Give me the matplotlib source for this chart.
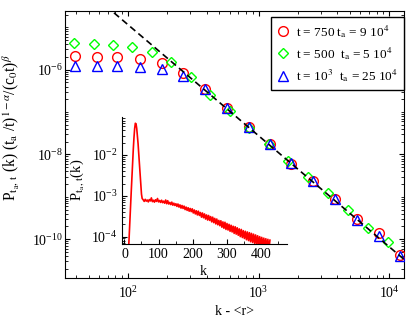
import numpy as np
import matplotlib
matplotlib.use('Agg')
import matplotlib.pyplot as plt
from matplotlib.ticker import LogLocator, MultipleLocator, NullFormatter

plt.rcParams['font.family'] = ['Liberation Serif', 'DejaVu Serif']
plt.rcParams['mathtext.fontset'] = 'stix'

# main panel: rescaled distributions
red_k = [39.4, 57.7, 82.4, 123.6, 182, 263, 387, 575, 841, 1230, 1786, 2630, 3873, 5702, 8395, 12134]
red_p = [2.05e-6, 2.0e-6, 1.98e-6, 1.8e-6, 1.45e-6, 8.2e-7, 3.52e-7, 1.26e-7, 4.56e-8, 1.79e-8,
         6.04e-9, 2.36e-9, 9.1e-10, 2.96e-10, 1.44e-10, 4.2e-11]

green_k = [38.7, 54.6, 76.9, 108.4, 152.8, 215.3, 303.4, 427.6, 602.6, 849.2, 1197, 1687, 2388,
           3388, 4808, 6823, 9727]
green_p = [4.16e-6, 4.03e-6, 3.81e-6, 3.35e-6, 2.61e-6, 1.54e-6, 6.6e-7, 2.56e-7, 1.04e-7, 4.24e-8,
           1.73e-8, 7.2e-9, 2.92e-9, 1.23e-9, 4.8e-10, 1.88e-10, 8.6e-11]

blue_k = red_k
blue_p = [1.2e-6, 1.2e-6, 1.19e-6, 1.18e-6, 1.04e-6, 7.2e-7, 3.44e-7, 1.23e-7, 4.5e-8, 1.74e-8,
          6.2e-9, 2.36e-9, 8.7e-10, 2.8e-10, 1.22e-10, 4.0e-11]

fit_k = [50, 20000]
fit_p = [7.1e-5, 1.08e-11]

labels = [r"t = 750 t$_\mathrm{a}$ = 9 10$^4$",
          r"t = 500  t$_\mathrm{a}$ = 5 10$^4$",
          r"t = 10$^3$  t$_\mathrm{a}$ = 25 10$^4$"]

# inset: raw distribution
inset_k = [10, 12, 14, 16, 18, 20, 22, 24, 26, 28, 30, 32, 34, 36, 38, 40, 42, 44, 46, 48, 50, 52,
           55, 58, 61, 64, 67, 70, 73, 76, 79, 82, 85, 88, 91, 94, 97, 100, 103, 106, 109, 112,
           115, 118, 121, 124, 127, 130, 133, 136, 139, 142, 145, 148, 151, 154, 157, 160, 163,
           166, 169, 172, 175, 178, 181, 184, 187, 190, 193, 196, 199, 202, 205, 208, 211, 214,
           217, 220, 223, 226, 229, 232, 235, 238, 241, 244, 247, 250, 253, 256, 259, 262, 265,
           268, 271, 274, 277, 280, 283, 286, 289, 292, 295, 298, 301, 304, 307, 310, 313, 316,
           319, 322, 325, 328, 331, 334, 337, 340, 343, 346, 349, 352, 355, 358, 361, 364, 367,
           370, 373, 376, 379, 382, 385, 388, 391, 394, 397, 400, 403, 406, 409, 412, 415, 418,
           421, 424, 427]
inset_p = [2e-5, 4.5e-5, 1.0e-4, 2.2e-4, 5.5e-4, 1.3e-3, 3.0e-3, 7.0e-3, 0.014, 0.027, 0.045, 0.060,
           0.058, 0.045, 0.030, 0.019, 0.011, 6.0e-3, 3.3e-3, 1.8e-3, 1.1e-3, 8.6e-4,
           8.0e-4, 7.3e-4, 8.2e-4, 7.4e-4, 7.9e-4, 7.1e-4, 8.1e-4, 7.5e-4, 8.9e-4, 7.2e-4,
           7.8e-4, 7.0e-4, 8.0e-4, 7.3e-4, 8.6e-4, 7.1e-4, 7.7e-4, 6.9e-4, 7.8e-4, 6.8e-4,
           7.4e-4, 6.6e-4, 7.9e-4, 6.4e-4, 7.6e-4, 6.3e-4, 6.9e-4, 6.1e-4, 7.0e-4, 5.9e-4,
           6.6e-4, 5.8e-4, 6.4e-4, 5.5e-4, 6.3e-4, 5.3e-4, 6.0e-4, 5.0e-4, 5.8e-4, 4.9e-4,
           5.6e-4, 4.6e-4, 5.3e-4, 4.4e-4, 5.1e-4, 4.2e-4, 4.9e-4, 4.1e-4, 4.8e-4, 3.8e-4,
           4.5e-4, 3.6e-4, 4.3e-4, 3.4e-4, 4.2e-4, 3.3e-4, 3.9e-4, 3.0e-4, 3.8e-4, 2.9e-4,
           3.6e-4, 2.7e-4, 3.4e-4, 2.55e-4, 3.3e-4, 2.5e-4, 3.1e-4, 2.3e-4, 3.0e-4, 2.2e-4,
           2.8e-4, 2.05e-4, 2.7e-4, 1.95e-4, 2.5e-4, 1.85e-4, 2.45e-4, 1.7e-4, 2.3e-4, 1.6e-4,
           2.25e-4, 1.5e-4, 2.1e-4, 1.45e-4, 2.0e-4, 1.35e-4, 1.9e-4, 1.3e-4, 1.8e-4, 1.2e-4,
           1.75e-4, 1.15e-4, 1.65e-4, 1.08e-4, 1.55e-4, 1.0e-4, 1.5e-4, 9.5e-5, 1.4e-4, 9.0e-5,
           1.35e-4, 8.4e-5, 1.3e-4, 8.0e-5, 1.25e-4, 7.5e-5, 1.2e-4, 7.2e-5, 1.15e-4, 6.8e-5,
           1.1e-4, 6.4e-5, 1.05e-4, 6.2e-5, 1.0e-4, 5.9e-5, 9.6e-5, 5.6e-5, 9.2e-5, 5.3e-5,
           8.9e-5, 5.0e-5, 8.6e-5, 4.7e-5, 8.2e-5]

fig = plt.figure(figsize=(4.15, 3.21), dpi=100)
ax = fig.add_axes([0.1573, 0.1349, 0.8162, 0.8299])

ax.plot(red_k, red_p, 'o', ms=7.0, mfc='none', mec='red', mew=1.0, label=labels[0], zorder=3)
ax.plot(green_k, green_p, 'D', ms=4.6, mfc='none', mec='#00ff00', mew=1.0, label=labels[1], zorder=3)
ax.plot(blue_k, blue_p, '^', ms=6.8, mfc='none', mec='blue', mew=1.0, label=labels[2], zorder=3)
ax.plot(fit_k, fit_p, color='black', lw=1.2, ls=(0, (4, 2.4)), zorder=4)

ax.set_xscale('log')
ax.set_yscale('log')
ax.set_xlim(33.2, 12970)
ax.set_ylim(1.24e-11, 2.38e-5)
ax.set_yticks([1e-10, 1e-8, 1e-6])
ax.yaxis.set_minor_locator(LogLocator(base=10, subs=np.arange(1, 10), numticks=50))
ax.yaxis.set_minor_formatter(NullFormatter())
ax.xaxis.set_minor_formatter(NullFormatter())
ax.tick_params(which='both', direction='in', top=True, right=True, labelsize=10)
ax.tick_params(which='major', length=3.5, width=0.8)
ax.tick_params(which='minor', length=2.0, width=0.6)
ax.tick_params(axis='y', pad=1.5)
ax.tick_params(axis='x', pad=5)

ax.set_xlabel("k - <r>", fontsize=10)
ax.xaxis.set_label_coords(0.5, -0.1025)
ax.set_ylabel(r"P$_{\mathrm{t}_{\mathrm{a}}\mathrm{,\,t}}$ (k) (t$_\mathrm{a}$ /t)$^{1-\alpha}$/(c$_0$t)$^{\beta}$",
              fontsize=11.2)
ax.yaxis.set_label_coords(-0.132, 0.564)

leg = ax.legend(loc='upper right', bbox_to_anchor=(1.0, 0.979), borderaxespad=0, fancybox=False,
                edgecolor='black', framealpha=1, fontsize=9.5, numpoints=1, handlelength=0.9,
                handletextpad=0.5, labelspacing=0.4, borderpad=0.45)
leg.get_frame().set_linewidth(1.0)

# inset (transparent, no top/right frame)
ax_in = fig.add_axes([0.2933, 0.2399, 0.399, 0.3966])
ax_in.patch.set_alpha(0)
ax_in.plot(inset_k, inset_p, color='red', lw=1.2)
ax_in.set_yscale('log')
ax_in.set_xlim(-8, 478)
ax_in.set_ylim(6.6e-5, 0.087)
ax_in.spines['top'].set_visible(False)
ax_in.spines['right'].set_visible(False)
ax_in.xaxis.set_major_locator(MultipleLocator(100))
ax_in.xaxis.set_minor_locator(MultipleLocator(50))
ax_in.yaxis.set_minor_locator(LogLocator(base=10, subs=np.arange(2, 10), numticks=50))
ax_in.yaxis.set_minor_formatter(NullFormatter())
ax_in.tick_params(which='both', direction='in', labelsize=10)
ax_in.tick_params(which='major', length=3.5, width=0.8)
ax_in.tick_params(which='minor', length=2.0, width=0.6)
ax_in.tick_params(axis='y', pad=3)
ax_in.tick_params(axis='x', pad=3)
ax_in.set_xlabel("k", fontsize=10)
ax_in.xaxis.set_label_coords(0.491, -0.165)
ax_in.set_ylabel(r"P$_{\mathrm{t}_{\mathrm{a}}\mathrm{,\,t}}$(k)", fontsize=10.5)
ax_in.yaxis.set_label_coords(-0.215, 0.503)

fig.savefig('out.png', dpi=100)
